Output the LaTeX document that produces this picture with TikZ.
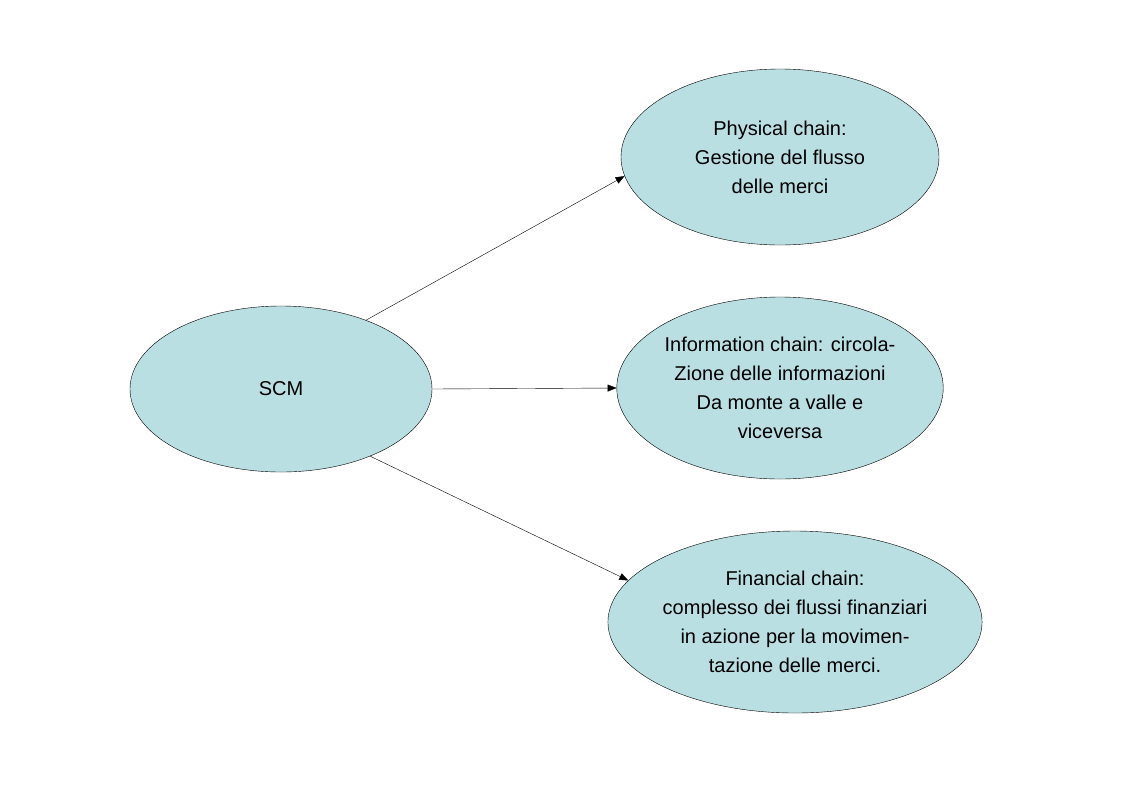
\documentclass[tikz,border=0pt]{standalone}
\usepackage{fontspec}
\setmainfont{Liberation Sans}
\usetikzlibrary{shapes.geometric,arrows.meta}
\begin{document}
\begin{tikzpicture}[x=1pt,y=-1pt,
  ell/.style={ellipse,draw,fill=cyan!10!teal!25!white,fill=ellfill,inner sep=0pt,font=\fontsize{20}{29}\selectfont,align=center},
  arr/.style={-{Triangle[length=9pt,width=7pt]}}]
\definecolor{ellfill}{HTML}{BADFE2}
\useasboundingbox (0,0) rectangle (1123,793);
\node[ell,minimum width=302pt,minimum height=166pt] (scm) at (281,389) {SCM};
\node[ell,minimum width=318pt,minimum height=176pt] (phys) at (780,157) {Physical chain:\\Gestione del flusso\\ delle merci};
\node[ell,minimum width=318pt,minimum height=182pt] (info) at (780,388) {Information chain: circola-\\Zione delle informazioni\\Da monte a valle e\\viceversa};
\node[ell,minimum width=318pt,minimum height=182pt] (fin) at (795,622) {Financial chain:\\complesso dei flussi finanziari\\in azione per la movimen-\\tazione delle merci.};
\draw[arr] (scm.39) -- (phys.187);
\draw[arr] (scm.east) -- (info.west);
\draw[arr] (scm.-37) -- (fin.166);
\end{tikzpicture}
\end{document}
